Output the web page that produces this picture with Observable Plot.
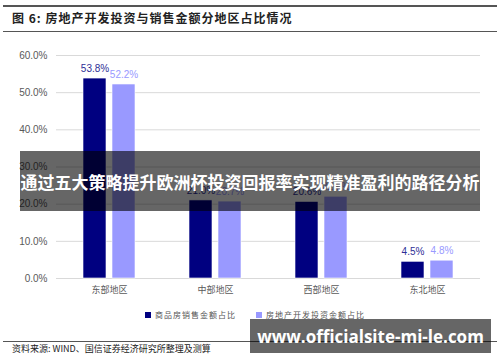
<!DOCTYPE html>
<html><head><meta charset="utf-8">
<script src="https://cdn.jsdelivr.net/npm/d3@7"></script>
<script src="https://cdn.jsdelivr.net/npm/@observablehq/plot@0.6"></script>
<style>
body{margin:0;background:#fff;font-family:"Liberation Sans","Noto Sans CJK SC",sans-serif;}
#wrap{position:relative;width:500px;height:362px;overflow:hidden;}
.abs{position:absolute;}
</style></head><body>
<div id="wrap">
  <div class="abs" style="left:3px;top:5px;width:494px;height:1.5px;background:#555"></div>
  <div class="abs" id="title" style="left:12px;top:9px;font:bold 12px 'Noto Sans CJK SC',sans-serif;color:#222;letter-spacing:1px"></div>
  <div class="abs" style="left:3px;top:31px;width:494px;height:1px;background:#555"></div>
  <div class="abs" id="chart" style="left:0;top:32px"></div>
  <div class="abs" id="legend" style="left:145px;top:309px;font:8px 'Noto Sans CJK SC',sans-serif;color:#555;letter-spacing:1px;display:flex;gap:20px"></div>
  <div class="abs" style="left:3px;top:341px;width:494px;height:1px;background:#555"></div>
  <div class="abs" id="source" style="left:12px;top:342px;font:9px 'Noto Sans CJK SC',sans-serif;color:#222"></div>
  <div class="abs" id="banner1" style="left:20px;top:151px;width:460px;height:60px;background:rgba(0,0,0,0.6);color:#fff;font:bold 17px 'Noto Sans CJK SC',sans-serif;display:flex;align-items:center;justify-content:center;white-space:nowrap"></div>
  <div class="abs" id="banner2" style="left:250px;top:319px;width:241px;height:34px;background:rgba(0,0,0,0.6);color:#fff;font:bold 17px 'Open Sans',sans-serif;display:flex;align-items:center;justify-content:center;white-space:nowrap"></div>
</div>
<script>
const titleText = "图 6: 房地产开发投资与销售金额分地区占比情况";
const sourceText = "资料来源: WIND、国信证券经济研究所整理及测算";
const bannerText1 = "通过五大策略提升欧洲杯投资回报率实现精准盈利的路径分析";
const bannerText2 = "www.officialsite-mi-le.com";
const regions = ["东部地区", "中部地区", "西部地区", "东北地区"];
const seriesNames = ["商品房销售金额占比", "房地产开发投资金额占比"];
const salesShare = [53.8, 21.0, 20.6, 4.5];
const investShare = [52.2, 20.7, 22.0, 4.8];
const yTicks = [0, 10, 20, 30, 40, 50, 60];
const barColors = ["#000080", "#9999FF"];
const labelColors = ["#2E2E96", "#9999FF"];

document.getElementById("title").textContent = titleText;
document.getElementById("source").textContent = sourceText;
document.getElementById("banner1").textContent = bannerText1;
document.getElementById("banner2").textContent = bannerText2;

const data = [];
regions.forEach((r, i) => {
  data.push({region: r, series: seriesNames[0], value: salesShare[i]});
  data.push({region: r, series: seriesNames[1], value: investShare[i]});
});

const fmt = d => d.toFixed(1) + "%";

const chart = Plot.plot({
  width: 500,
  height: 268,
  marginTop: 23,
  marginBottom: 22,
  marginLeft: 55,
  marginRight: 19,
  style: {fontFamily: "'Liberation Sans', 'Noto Sans CJK SC', sans-serif", background: "#fff"},
  fx: {domain: regions, padding: 0, label: null},
  x: {domain: seriesNames, paddingInner: 0.2, paddingOuter: 0.875, axis: null},
  y: {domain: [0, 60], label: null, ticks: yTicks},
  color: {domain: seriesNames, range: barColors},
  marks: [
    Plot.ruleY(yTicks, {stroke: "#d9d9d9", strokeWidth: 1}),
    Plot.barY(data, {fx: "region", x: "series", y: "value", fill: "series", stroke: "#fff", strokeWidth: 0.6}),
    Plot.text(data, {fx: "region", x: "series", y: "value", text: d => fmt(d.value), dy: -10,
      fill: d => d.series === seriesNames[0] ? labelColors[0] : labelColors[1], fontSize: 10}),
    Plot.axisY({ticks: yTicks, tickFormat: fmt, tickSize: 0, tickPadding: 9, fontSize: 10, color: "#595959", label: null}),
    Plot.axisFx({anchor: "bottom", tickSize: 0, tickPadding: 8, fontSize: 9, color: "#595959", label: null,
      fontFamily: "'Noto Sans CJK SC', sans-serif", style: {letterSpacing: "1px"}})
  ]
});
document.getElementById("chart").appendChild(chart);

const legend = document.getElementById("legend");
seriesNames.forEach((s, i) => {
  const item = document.createElement("div");
  item.style.display = "flex";
  item.style.alignItems = "center";
  const sw = document.createElement("span");
  sw.style.cssText = `display:inline-block;width:6px;height:6px;background:${barColors[i]};margin-right:4px`;
  const t = document.createElement("span");
  t.textContent = s;
  item.appendChild(sw); item.appendChild(t);
  legend.appendChild(item);
});
</script>
</body></html>
